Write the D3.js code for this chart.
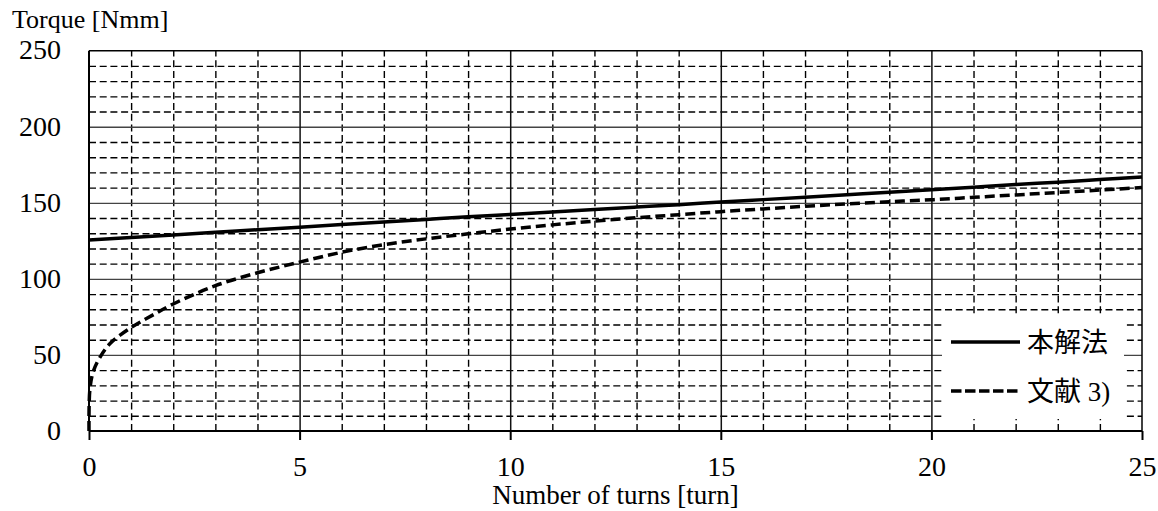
<!DOCTYPE html>
<html>
<head>
<meta charset="utf-8">
<script src="https://cdn.jsdelivr.net/npm/d3@7"></script>
<style>
  body { margin: 0; background: #fff; }
  svg { display: block; }
  text { font-family: "Liberation Serif", "Noto Sans CJK JP", serif; fill: #000; }
  .axis path { display: none; }
  .axis line { stroke: #000; }
</style>
</head>
<body>
<script>
// Data
var xTicks = [0, 5, 10, 15, 20, 25],
    yTicks = [0, 50, 100, 150, 200, 250];

// 本解法 (solid)
var solidTurns = [0, 1, 2, 3, 4, 5, 6, 7, 8, 9, 10, 11, 12, 13, 14, 15, 16, 17, 18, 19, 20, 21, 22, 23, 24, 25];
var solidTorque = [125.5, 127.2, 128.9, 130.6, 132.3, 134.0, 135.7, 137.4, 139.1, 140.8, 142.4, 144.0, 145.6, 147.2, 148.8,
                   150.5, 152.1, 153.7, 155.3, 156.9, 158.6, 160.3, 162.0, 163.6, 165.3, 167.0];

// 文献 3) (dashed)
var refTurns = [0, 0.02, 0.1, 0.25, 0.5, 1, 1.5, 2, 3, 4, 5, 6, 7, 8, 9, 10, 11, 12, 13, 14, 15, 16, 17, 18, 19, 20, 21, 22, 23, 24, 25];
var refTorque = [0, 27, 39, 48, 57.5, 68, 76, 83.5, 95.5, 104, 111, 117.5, 122.5, 126.3, 129.6, 132.8, 135.5, 138, 140.2, 142.2,
                 144.2, 146, 147.7, 149.3, 150.7, 152, 153.6, 155.2, 156.8, 158.4, 160];

var legendNames = ["本解法", "文献 3)"];

var W = 1158, H = 511;
var margin = {top: 50.7, left: 89, right: 16, bottom: 80},
    width = W - margin.left - margin.right,
    height = H - margin.top - margin.bottom;

var svg = d3.select("body").append("svg")
            .attr("width", W)
            .attr("height", H);

var g = svg.append("g")
           .attr("transform", "translate(" + margin.left + "," + margin.top + ")");

var xScale = d3.scaleLinear().domain([0, 25]).range([0, width]),
    yScale = d3.scaleLinear().domain([0, 250]).range([height, 0]);

// minor dashed grid
var minorX = d3.range(0, 26).filter(d => d % 5 !== 0),
    minorY = d3.range(0, 251, 10).filter(d => d % 50 !== 0);

g.append("g")
 .attr("class", "axis minor")
 .attr("transform", "translate(0," + height + ")")
 .call(d3.axisBottom(xScale).tickValues(minorX).tickSize(-height).tickFormat(""))
 .selectAll("line")
 .style("stroke-dasharray", "7,3.7")
 .style("stroke-width", 1.4);

g.append("g")
 .attr("class", "axis minor")
 .call(d3.axisLeft(yScale).tickValues(minorY).tickSize(-width).tickFormat(""))
 .selectAll("line")
 .style("stroke-dasharray", "7,3.7")
 .style("stroke-width", 1.4);

// major solid grid
g.append("g")
 .attr("class", "axis major")
 .call(d3.axisLeft(yScale).tickValues(yTicks.slice(1, 5)).tickSize(-width).tickFormat(""))
 .selectAll("line")
 .style("stroke", "#444")
 .style("stroke-width", 1.3);

g.append("g")
 .attr("class", "axis major")
 .attr("transform", "translate(0," + height + ")")
 .call(d3.axisBottom(xScale).tickValues(xTicks.slice(1, 5)).tickSize(-height).tickFormat(""))
 .selectAll("line")
 .style("stroke", "#111")
 .style("stroke-width", 1.5);

// frame
g.append("line").attr("x1", 0).attr("x2", width).attr("y1", 0).attr("y2", 0)
 .style("stroke", "#000").style("stroke-width", 1.5);
g.append("line").attr("x1", width).attr("x2", width).attr("y1", 0).attr("y2", height)
 .style("stroke", "#000").style("stroke-width", 1.5);
g.append("line").attr("x1", 0).attr("x2", 0).attr("y1", 0).attr("y2", height)
 .style("stroke", "#000").style("stroke-width", 2);

// x axis with ticks and labels
var xAx = g.append("g")
           .attr("class", "axis x")
           .attr("transform", "translate(0," + height + ")")
           .call(d3.axisBottom(xScale).tickValues(xTicks).tickSize(9).tickFormat(d3.format("d")));
xAx.selectAll("line").style("stroke-width", 2);
xAx.selectAll("text")
   .attr("y", 44.5)
   .attr("dy", null)
   .style("font-size", "28px");
xAx.append("line").attr("x1", 0).attr("x2", width)
   .style("stroke", "#000").style("stroke-width", 2);

// y axis labels
var yAx = g.append("g")
           .attr("class", "axis y")
           .call(d3.axisLeft(yScale).tickValues(yTicks).tickSize(0).tickPadding(28).tickFormat(d3.format("d")));
yAx.selectAll("text")
   .attr("dy", "0.32em")
   .style("font-size", "28px");
yAx.selectAll("text").filter(d => d === 250).attr("dy", "0.28em");

// series
var line = d3.line()
             .x(d => xScale(d[0]))
             .y(d => yScale(d[1]))
             .curve(d3.curveCatmullRom.alpha(0.5));

g.append("path")
 .datum(refTurns.map((t, i) => [t, refTorque[i]]))
 .attr("d", line)
 .style("fill", "none")
 .style("stroke", "#000")
 .style("stroke-width", 3.5)
 .style("stroke-dasharray", "10,5");

g.append("path")
 .datum(solidTurns.map((t, i) => [t, solidTorque[i]]))
 .attr("d", line)
 .style("fill", "none")
 .style("stroke", "#000")
 .style("stroke-width", 3.5);

// legend
var legend = svg.append("g");
legend.append("rect")
      .attr("x", 942).attr("y", 317)
      .attr("width", 182).attr("height", 102)
      .style("fill", "#fff");

legendNames.forEach((name, i) => {
  var ly = 342 + i * 49;
  legend.append("line")
        .attr("x1", 951).attr("x2", 1020)
        .attr("y1", ly).attr("y2", ly)
        .style("stroke", "#000")
        .style("stroke-width", 3.5)
        .style("stroke-dasharray", i === 1 ? "10.5,3.5" : null);
  legend.append("text")
        .attr("x", 1027)
        .attr("y", ly)
        .attr("dy", "0.36em")
        .style("font-size", "27px")
        .text(name);
});

// axis titles
svg.append("text")
   .attr("x", 12)
   .attr("y", 28)
   .style("font-size", "26px")
   .text("Torque [Nmm]");

svg.append("text")
   .attr("x", margin.left + width / 2)
   .attr("y", 504)
   .attr("text-anchor", "middle")
   .style("font-size", "27px")
   .text("Number of turns [turn]");
</script>
</body>
</html>
